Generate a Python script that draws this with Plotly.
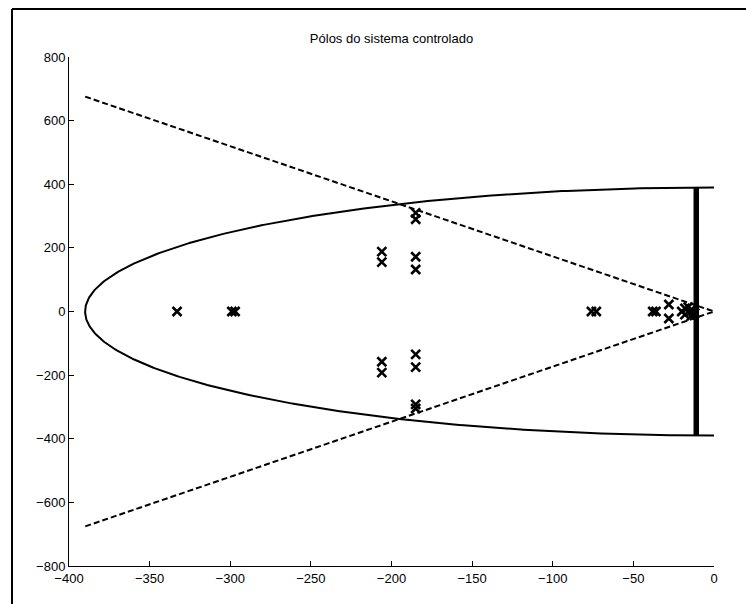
import numpy as np
import plotly.graph_objects as go

# Closed-loop pole locations (real, imaginary)
pole_re = [-333, -299, -297,
           -206, -206, -206, -206,
           -185, -185, -185, -185,
           -185, -185, -185, -185,
           -76, -73, -38, -36,
           -28, -28,
           -20, -18, -18, -16, -15, -14, -14, -13, -12]
pole_im = [0, 0, 0,
           188, 155, -158, -192,
           310, 290, -292, -305,
           172, 132, -135, -175,
           0, 0, 0, 0,
           22, -22,
           0, 10, -10, 14, 0, -14, 6, 0, -5]

# Design region parameters
radius = 390.0        # max natural frequency circle
zeta = 0.5            # damping ratio boundary
sigma_min = -11.0     # minimum decay rate

theta = np.linspace(np.pi / 2, 3 * np.pi / 2, 400)
circ_x = radius * np.cos(theta)
circ_y = radius * np.sin(theta)

phi = np.arccos(zeta)
cone_x = [-radius, 0, -radius]
cone_y = [radius * np.tan(phi), 0, -radius * np.tan(phi)]

fig = go.Figure()

fig.add_trace(go.Scatter(x=circ_x, y=circ_y, mode="lines",
                         line=dict(color="black", width=2), hoverinfo="skip"))
fig.add_trace(go.Scatter(x=cone_x, y=cone_y, mode="lines",
                         line=dict(color="black", width=2, dash="6px,3px"), hoverinfo="skip"))
fig.add_trace(go.Scatter(x=[sigma_min, sigma_min], y=[-radius, radius], mode="lines",
                         line=dict(color="black", width=5.5), hoverinfo="skip"))
fig.add_trace(go.Scatter(x=pole_re, y=pole_im, mode="markers",
                         marker=dict(symbol="x-thin", size=9,
                                     line=dict(color="black", width=2.6))))

L, R, T, B = 69, 32, 57, 38
W, H = 746, 604
pw, ph = W - L - R, H - T - B

# Figure frame (top and left edges)
fx0 = (12 - L) / pw
fx1 = (W - L) / pw
fy_top = 1 + (T - 9) / ph
fy_bot = -B / ph - 0.01
fig.add_shape(type="line", xref="paper", yref="paper", x0=fx0, x1=fx1, y0=fy_top, y1=fy_top,
              line=dict(color="black", width=2))
fig.add_shape(type="line", xref="paper", yref="paper", x0=fx0, x1=fx0, y0=fy_top, y1=fy_bot,
              line=dict(color="black", width=2))

axis_common = dict(showgrid=False, zeroline=False, showline=True, linecolor="black",
                   linewidth=1, ticks="inside", ticklen=5, tickcolor="black",
                   mirror=False, tickfont=dict(family="Liberation Sans, Arial", size=13, color="black"))

fig.update_layout(
    width=W, height=H,
    margin=dict(l=L, r=R, t=T, b=B),
    paper_bgcolor="white", plot_bgcolor="white",
    showlegend=False,
    title=dict(text="Pólos do sistema controlado", x=(L + pw / 2) / W, xanchor="center",
               y=1 - 38 / H, yanchor="middle", yref="container",
               font=dict(family="Liberation Sans, Arial", size=13, color="black")),
    xaxis=dict(range=[-400, 0], tickvals=list(range(-400, 1, 50)), **axis_common),
    yaxis=dict(range=[-800, 800], tickvals=list(range(-800, 801, 200)), **axis_common),
)

fig.write_html("out.html")
